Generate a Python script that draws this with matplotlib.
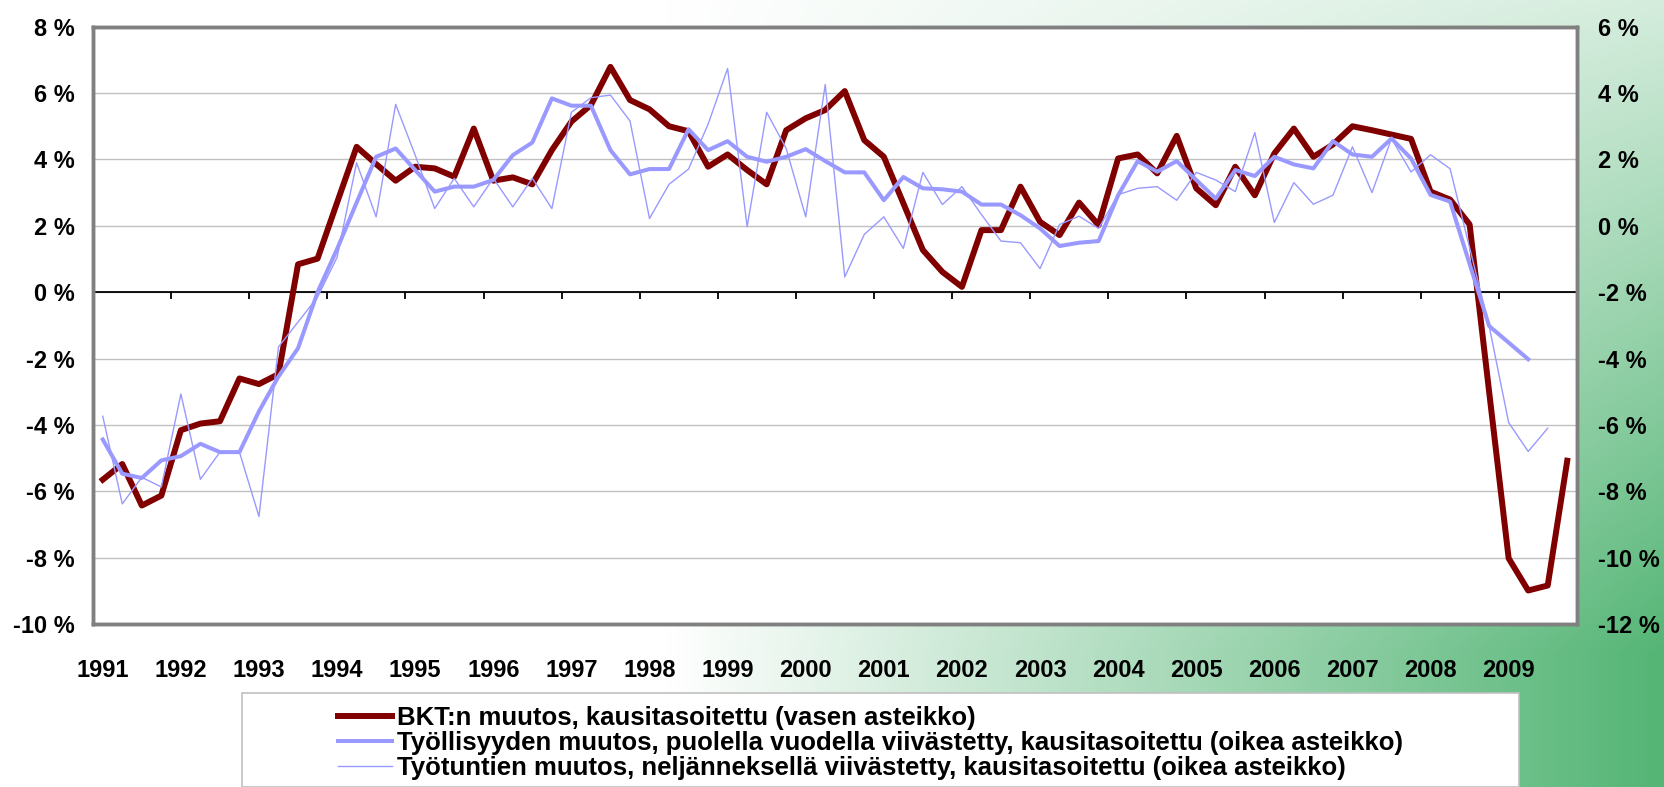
import numpy as np
import matplotlib
matplotlib.use('Agg')
import matplotlib.pyplot as plt
from matplotlib.lines import Line2D
from matplotlib.patches import Rectangle


# neljännesvuosidata 1991 Q1 - 2009 Q4
years = [str(y) for y in range(1991, 2010)]

# BKT:n muutos, vasen asteikko (%)
bkt = [-5.65, -5.18, -6.43, -6.13, -4.16, -3.96, -3.89, -2.60, -2.77, -2.47,
       0.84, 1.01, 2.70, 4.38, 3.86, 3.36, 3.78, 3.73, 3.48, 4.93,
       3.36, 3.46, 3.25, 4.28, 5.14, 5.64, 6.79, 5.79, 5.51, 5.00,
       4.85, 3.78, 4.15, 3.68, 3.25, 4.88, 5.24, 5.49, 6.06, 4.58,
       4.08, 2.68, 1.27, 0.61, 0.16, 1.87, 1.87, 3.18, 2.12, 1.72,
       2.70, 2.02, 4.03, 4.15, 3.58, 4.71, 3.13, 2.62, 3.78, 2.92,
       4.18, 4.93, 4.08, 4.45, 5.00, 4.88, 4.75, 4.62, 3.03, 2.79,
       2.04, -3.00, -8.02, -8.99, -8.84, -5.08]

# työllisyyden muutos, oikea asteikko (%)
tyollisyys = [-6.44, -7.47, -7.60, -7.07, -6.94, -6.57, -6.82, -6.82, -5.59, -4.54,
              -3.69, -2.00, -0.70, 0.70, 2.08, 2.33, 1.68, 1.03, 1.18, 1.18,
              1.38, 2.13, 2.51, 3.84, 3.62, 3.62, 2.28, 1.55, 1.71, 1.71,
              2.91, 2.28, 2.55, 2.08, 1.93, 2.08, 2.31, 1.95, 1.61, 1.61,
              0.77, 1.47, 1.13, 1.10, 1.03, 0.64, 0.64, 0.32, -0.08, -0.61,
              -0.51, -0.46, 0.92, 1.95, 1.63, 1.95, 1.38, 0.82, 1.68, 1.50,
              2.08, 1.85, 1.73, 2.55, 2.15, 2.08, 2.63, 2.03, 0.93, 0.73,
              -1.15, -3.02, -3.52, -4.02]

# työtuntien muutos, oikea asteikko (%)
tyotunnit = [-5.74, -8.38, -7.58, -7.87, -5.07, -7.64, -6.82, -6.82, -8.76, -3.65,
             -2.90, -2.15, -0.95, 1.90, 0.27, 3.66, 2.13, 0.52, 1.43, 0.57,
             1.43, 0.57, 1.43, 0.52, 3.42, 3.86, 3.94, 3.16, 0.22, 1.25,
             1.71, 3.06, 4.74, -0.03, 3.42, 2.33, 0.27, 4.26, -1.54, -0.26,
             0.27, -0.68, 1.61, 0.64, 1.18, 0.34, -0.46, -0.51, -1.29, 0.04,
             0.29, -0.08, 0.94, 1.13, 1.18, 0.77, 1.61, 1.38, 1.03, 2.81,
             0.10, 1.30, 0.65, 0.92, 2.38, 1.00, 2.63, 1.62, 2.14, 1.72,
             -0.66, -3.02, -5.93, -6.80, -6.10]

labels = ['BKT:n muutos, kausitasoitettu (vasen asteikko)',
          'Työllisyyden muutos, puolella vuodella viivästetty, kausitasoitettu (oikea asteikko)',
          'Työtuntien muutos, neljänneksellä viivästetty, kausitasoitettu (oikea asteikko)']

RED = '#800000'
BLUE = '#9999ff'

plt.rcParams['font.family'] = ['Liberation Sans', 'DejaVu Sans']
plt.rcParams['font.weight'] = 'bold'

W, H = 1664, 787
fig = plt.figure(figsize=(W / 100, H / 100), dpi=100)

# taustan liukuväri (valkoinen -> vihreä)
bg = fig.add_axes([0, 0, 1, 1], zorder=-5)
xn = np.linspace(0, 1, 420)[None, :]
yn = np.linspace(0, 1, 200)[:, None]
t = np.clip((xn - 0.4) / 0.6, 0, 1) * np.clip(0.25 + 0.9 * yn, 0, 1)
t = np.clip(t, 0, 1)[..., None]
green = np.array([0.33, 0.71, 0.46])
img = (1 - t) * np.ones(3) + t * green
bg.imshow(img, aspect='auto', extent=[0, 1, 1, 0])
bg.axis('off')

# pääkuvaaja
left, right, top, bottom = 93, 1577, 26.7, 624
ax = fig.add_axes([left / W, 1 - bottom / H, (right - left) / W, (bottom - top) / H])
ax.set_facecolor('white')

xq = np.arange(len(bkt))
ax.plot(xq, bkt, color=RED, lw=4.3, zorder=3)

ax.set_xlim(-0.5, len(bkt) - 0.5)
ax.set_ylim(-10, 8)
yt = list(range(-10, 9, 2))
ax.set_yticks(yt)
ax.set_yticklabels([f'{v} %' for v in yt])
ax.yaxis.grid(True, color='#c0c0c0', lw=1)
ax.set_axisbelow(True)

ax.set_xticks(xq[::4])
ax.set_xticklabels(years)
ax.tick_params(axis='x', length=0, pad=25, labelsize=17)
ax.tick_params(axis='y', length=0, pad=13, labelsize=17)

# nollaviiva ja vuosijakoviivat
ax.axhline(0, color='black', lw=1.3, zorder=2)
bounds = np.arange(-0.5, len(bkt), 4)
ax.vlines(bounds, -0.2, 0, color='black', lw=1.3, zorder=2)

ax2 = ax.twinx()
ax2.plot(np.arange(len(tyollisyys)), tyollisyys, color=BLUE, lw=2.9, zorder=3)
ax2.plot(np.arange(len(tyotunnit)), tyotunnit, color=BLUE, lw=1.0, zorder=4)
ax2.set_ylim(-12, 6)
yt2 = list(range(-12, 7, 2))
ax2.set_yticks(yt2)
ax2.set_yticklabels([f'{v} %' for v in yt2])
ax2.tick_params(axis='y', length=0, pad=15, labelsize=17)

for a in (ax, ax2):
    for s in a.spines.values():
        s.set_color('#808080')
        s.set_linewidth(2.5)

# selitelaatikko
fig.add_artist(Rectangle((242 / W, 0), (1519 - 242) / W, (H - 692.7) / H,
                         transform=fig.transFigure, facecolor='white',
                         edgecolor='#c0c0c0', lw=1.2, zorder=1))
handles = [Line2D([], [], color=RED, lw=4.3),
           Line2D([], [], color=BLUE, lw=2.9),
           Line2D([], [], color=BLUE, lw=1.0)]
leg = fig.legend(handles, labels, loc='upper left',
                 bbox_to_anchor=(338 / W, 1 - 706 / H), frameon=False,
                 prop={'size': 18.5, 'weight': 'bold'}, handlelength=2.1,
                 handletextpad=0.2, labelspacing=0.03, borderpad=0,
                 borderaxespad=0)
leg.set_zorder(2)

fig.savefig('out.png', dpi=100)
